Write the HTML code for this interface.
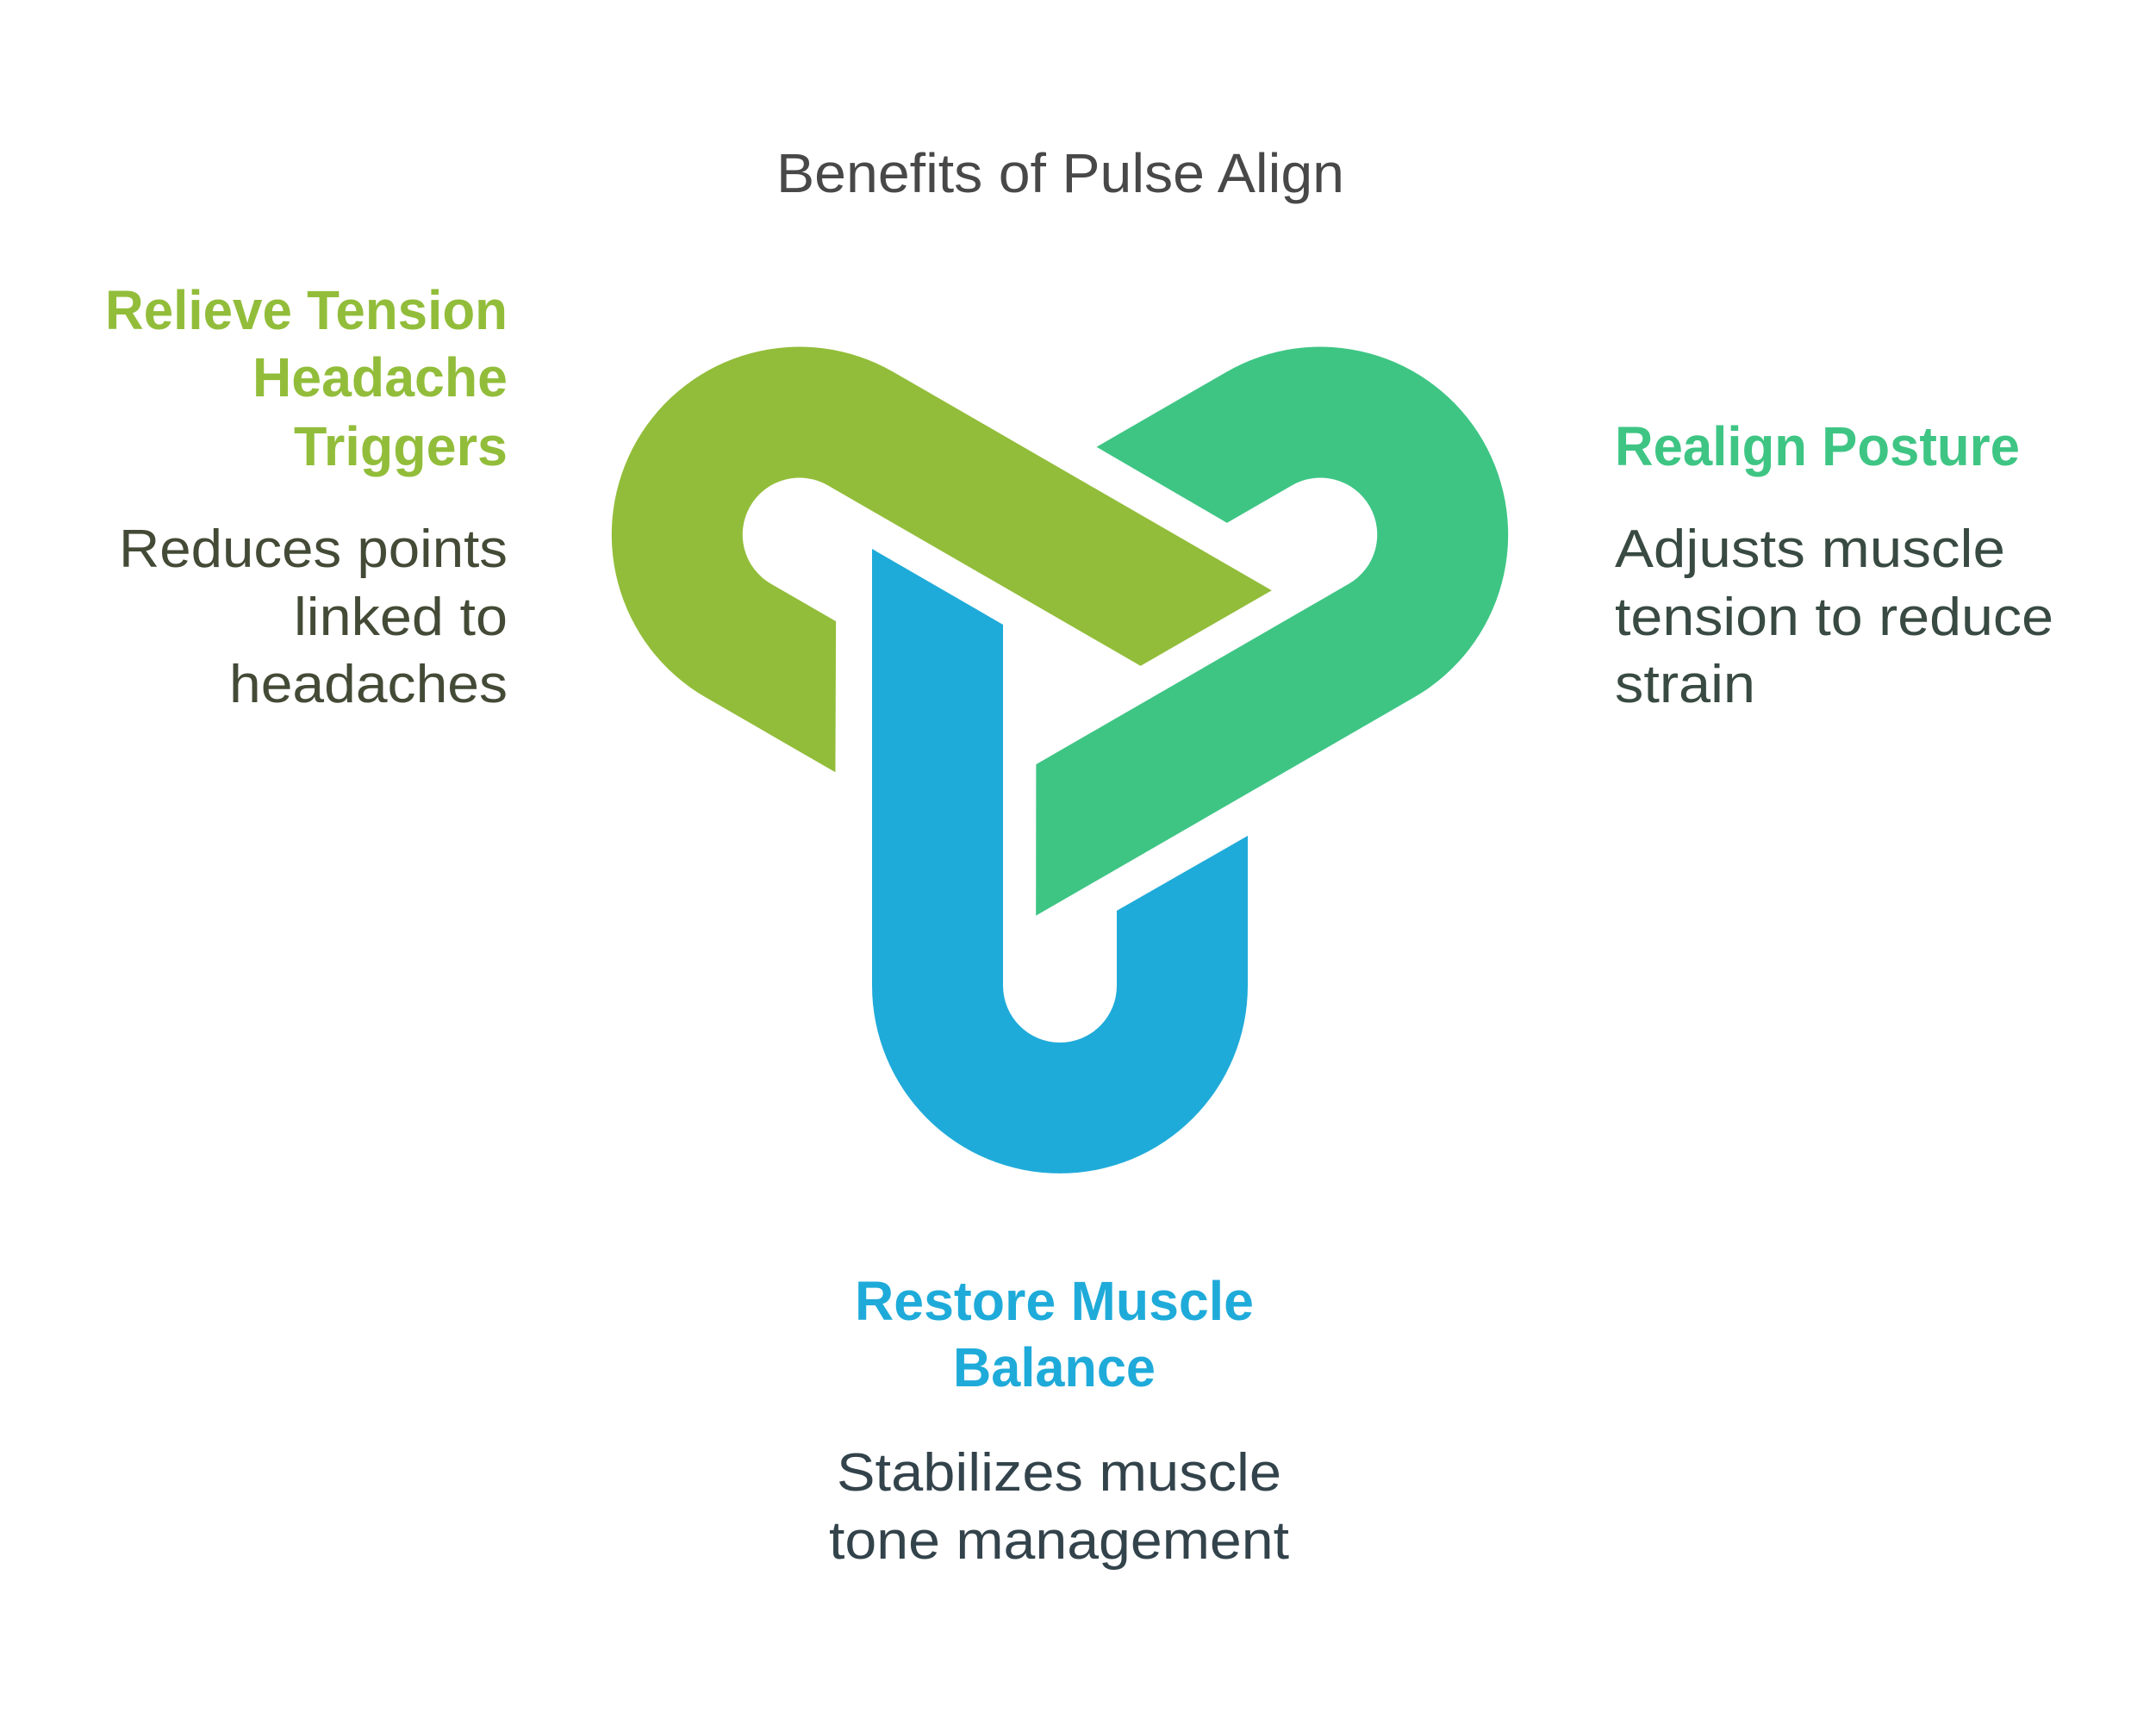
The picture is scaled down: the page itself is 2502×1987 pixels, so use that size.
<!DOCTYPE html>
<html><head><meta charset="utf-8"><style>
html,body{margin:0;padding:0;background:#fff;}
svg{display:block;}
text{font-family:"Liberation Sans",sans-serif;}
.h{font-weight:bold;font-size:64px;}
.d{font-size:62px;}
</style></head><body>
<svg width="2502" height="1987" viewBox="0 0 2502 1987" xmlns="http://www.w3.org/2000/svg">
<defs>
<path id="loop" d="M -218,-158 L -66,-70 L -66,349 A 66 66 0 0 0 66,349 L 66,262 L 218,175 L 218,349 A 218 218 0 0 1 -218,349 Z"/>
</defs>
<g transform="translate(1230,795)">
<use href="#loop" fill="#1FABD9"/>
<use href="#loop" fill="#92BD3A" transform="rotate(120)"/>
<use href="#loop" fill="#3EC584" transform="rotate(240)"/>
</g>
<g transform="translate(-3,-4)">
<text x="904" y="227" font-size="64" fill="#484848" textLength="659" lengthAdjust="spacingAndGlyphs">Benefits of Pulse Align</text>

<text class="h" fill="#92BD3A" x="125" y="386" textLength="467" lengthAdjust="spacingAndGlyphs">Relieve Tension</text>
<text class="h" fill="#92BD3A" x="296" y="464" textLength="296" lengthAdjust="spacingAndGlyphs">Headache</text>
<text class="h" fill="#92BD3A" x="344" y="544" textLength="248" lengthAdjust="spacingAndGlyphs">Triggers</text>
<text class="d" fill="#434A36" x="141" y="662" textLength="451" lengthAdjust="spacingAndGlyphs">Reduces points</text>
<text class="d" fill="#434A36" x="344" y="741" textLength="248" lengthAdjust="spacingAndGlyphs">linked to</text>
<text class="d" fill="#434A36" x="269" y="819" textLength="323" lengthAdjust="spacingAndGlyphs">headaches</text>

<text class="h" fill="#3EC584" x="1877" y="544" textLength="470" lengthAdjust="spacingAndGlyphs">Realign Posture</text>
<text class="d" fill="#384A42" x="1877" y="662" textLength="453" lengthAdjust="spacingAndGlyphs">Adjusts muscle</text>
<text class="d" fill="#384A42" x="1877" y="741" textLength="509" lengthAdjust="spacingAndGlyphs">tension to reduce</text>
<text class="d" fill="#384A42" x="1877" y="819" textLength="163" lengthAdjust="spacingAndGlyphs">strain</text>

<text class="h" fill="#1FABD9" x="995" y="1536" textLength="463" lengthAdjust="spacingAndGlyphs">Restore Muscle</text>
<text class="h" fill="#1FABD9" x="1109" y="1613" textLength="235" lengthAdjust="spacingAndGlyphs">Balance</text>
<text class="d" fill="#33434B" x="974" y="1734" textLength="516" lengthAdjust="spacingAndGlyphs">Stabilizes muscle</text>
<text class="d" fill="#33434B" x="965" y="1813" textLength="534" lengthAdjust="spacingAndGlyphs">tone management</text>
</g>
</svg>
</body></html>
